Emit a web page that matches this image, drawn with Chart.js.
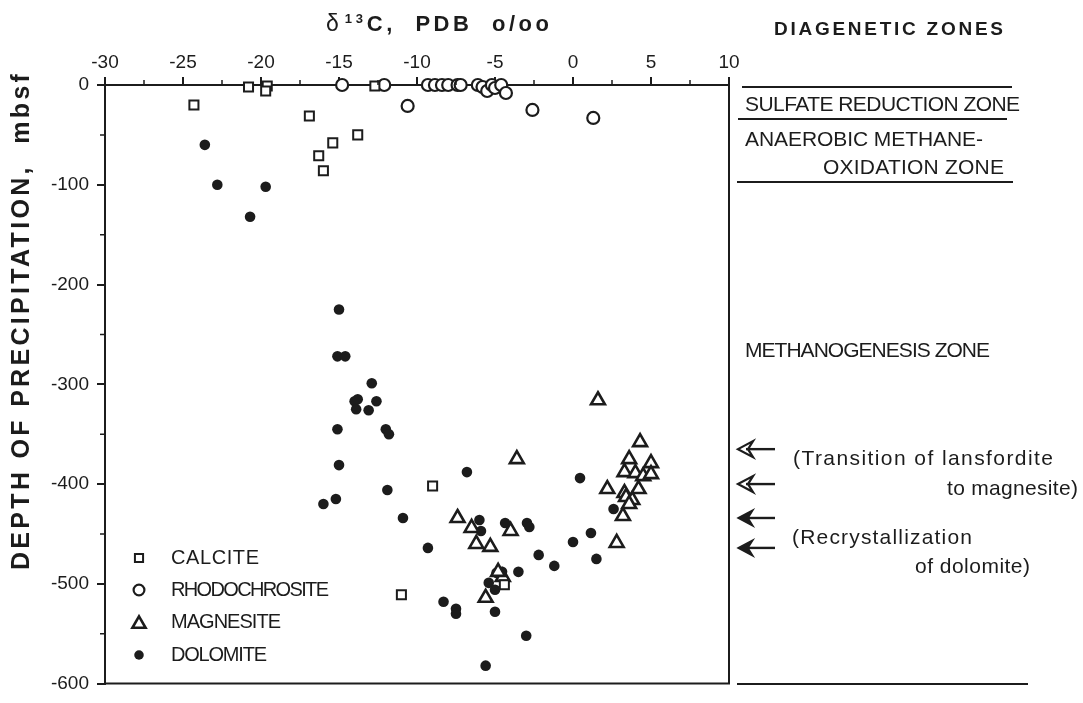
<!doctype html>
<html lang="en">
<head>
<meta charset="utf-8">
<title>Carbon isotopes of diagenetic carbonates</title>
<script src="https://cdn.jsdelivr.net/npm/chart.js@4.4.1/dist/chart.umd.min.js"></script>
<style>
  html, body { margin: 0; padding: 0; background: #fff; }
</style>
</head>
<body>
<canvas id="isoChart" width="1083" height="703"></canvas>
<script>
// delta13C (permil PDB) and depth of precipitation (mbsf)
var calciteX = [-24.3, -20.8, -19.6, -19.7, -16.9, -13.8, -15.4, -16.3, -16.0, -12.7, -9.0, -11.0, -4.4];
var calciteY = [-20, -2, -1, -6, -31, -50, -58, -71, -86, -1, -402, -511, -501];

var rhodoX = [-14.8, -12.1, -10.6, -9.3, -8.85, -8.4, -8.0, -7.4, -7.2, -6.1, -5.8, -5.5, -5.2, -5.0, -4.6, -4.3, -2.6, 1.3];
var rhodoY = [0, 0, -21, 0, 0, 0, 0, 0, 0, 0, -2, -6, 0, -3, 0, -8, -25, -33];

var magnesiteX = [1.6, 4.3, -3.6, 3.6, 5.0, 3.3, 4.0, 4.5, 5.0, 2.2, 4.2, 3.3, 3.4, 3.8, 3.6, 3.2, 2.8,
                  -7.4, -6.5, -4.0, -6.2, -5.3, -4.5, -4.8, -5.6];
var magnesiteY = [-316, -358, -375, -375, -379, -388, -389, -392, -390, -405, -405, -409, -413, -416, -420, -432, -459,
                  -434, -444, -447, -460, -463, -493, -488, -514];

var dolomiteX = [-23.6, -22.8, -20.7, -19.7,
                 -15.0, -15.1, -14.6, -12.9, -14.0, -13.8, -13.9, -12.6, -13.1, -15.1, -12.0, -11.8,
                 -15.0, -11.9, -15.2, -16.0, -10.9, -9.3,
                 -6.8, 0.45, -6.0, -5.9, -4.35, -2.95, -2.8, 2.6, 1.15, 0.0, -2.2, 1.5, -1.2, -3.5, -4.9, -4.55, -5.4, -5.0,
                 -8.3, -7.5, -7.5, -5.0, -3.0, -5.6];
var dolomiteY = [-60, -100, -132, -102,
                 -225, -272, -272, -299, -317, -315, -325, -317, -326, -345, -345, -350,
                 -381, -406, -415, -420, -434, -464,
                 -388, -394, -436, -447, -439, -439, -443, -425, -449, -458, -471, -475, -482, -488, -489, -488, -499, -506,
                 -518, -525, -530, -528, -552, -582];

var xMin = -30, xMax = 10, xStep = 5;
var yMin = -600, yMax = 0, yStep = 100;

// right-hand panel: zone boundaries and arrows, as depths
var zoneLineDepths = [-2, -34, -97, -600];
var arrowDepths = [-365, -400, -434, -464];

var ink = "#1c1c1c";
var sans = "'Liberation Sans', Arial, Helvetica, sans-serif";

function pairs(xs, ys) {
  return xs.map(function (x, i) { return { x: x, y: ys[i] }; });
}

var series = [
  { label: "CALCITE", data: pairs(calciteX, calciteY), pointStyle: "rect", pointRadius: 6.4,
    borderWidth: 2, borderColor: ink, backgroundColor: "#fff" },
  { label: "RHODOCHROSITE", data: pairs(rhodoX, rhodoY), pointStyle: "circle", pointRadius: 6,
    borderWidth: 2.2, borderColor: ink, backgroundColor: "#fff" },
  { label: "MAGNESITE", data: pairs(magnesiteX, magnesiteY), pointStyle: "triangle", pointRadius: 8,
    borderWidth: 2.6, borderColor: ink, backgroundColor: "#fff" },
  { label: "DOLOMITE", data: pairs(dolomiteX, dolomiteY), pointStyle: "circle", pointRadius: 5.3,
    borderWidth: 0, borderColor: ink, backgroundColor: ink }
];

// draws text stretched or squeezed to a given width
function fitText(ctx, txt, x, y, w) {
  ctx.letterSpacing = "0px";
  var m = ctx.measureText(txt).width;
  var ls = (w - m) / Math.max(1, txt.length - 1);
  ctx.letterSpacing = ls.toFixed(2) + "px";
  ctx.textAlign = "left";
  ctx.fillText(txt, x, y);
  ctx.letterSpacing = "0px";
}

function arrow(ctx, x0, x1, y, open) {
  ctx.save();
  ctx.strokeStyle = ink;
  ctx.fillStyle = ink;
  ctx.lineWidth = 2.4;
  ctx.beginPath();
  ctx.moveTo(x1, y);
  ctx.lineTo(x0 + 8, y);
  ctx.stroke();
  ctx.beginPath();
  ctx.moveTo(x0, y);
  ctx.lineTo(x0 + 15, y - 8);
  ctx.lineTo(x0 + 10, y);
  ctx.lineTo(x0 + 15, y + 8);
  ctx.closePath();
  ctx.lineJoin = "miter";
  if (open) {
    ctx.lineWidth = 2.2;
    ctx.stroke();
  } else {
    ctx.fill();
    ctx.lineWidth = 1.5;
    ctx.stroke();
  }
  ctx.restore();
}

var decorations = {
  id: "decorations",
  afterDraw: function (chart) {
    var ctx = chart.ctx;
    var a = chart.chartArea;
    var xs = chart.scales.x, ys = chart.scales.y;
    ctx.save();
    ctx.strokeStyle = ink;
    ctx.fillStyle = ink;
    ctx.lineWidth = 2;

    // right and bottom frame
    ctx.beginPath();
    ctx.moveTo(a.right, a.top - 8);
    ctx.lineTo(a.right, a.bottom);
    ctx.lineTo(a.left, a.bottom);
    ctx.stroke();

    // minor ticks
    ctx.lineWidth = 1.5;
    ctx.beginPath();
    for (var v = xMin + xStep / 2; v < xMax; v += xStep) {
      var px = xs.getPixelForValue(v);
      ctx.moveTo(px, a.top);
      ctx.lineTo(px, a.top - 5);
    }
    for (var w = yMin + yStep / 2; w < yMax; w += yStep) {
      var py = ys.getPixelForValue(w);
      ctx.moveTo(a.left, py);
      ctx.lineTo(a.left - 5, py);
    }
    ctx.stroke();

    // x axis title with superscript
    ctx.textBaseline = "middle";
    ctx.textAlign = "left";
    var tx = 326, ty = 25;
    ctx.font = "23px " + sans;
    ctx.fillText("\u03b4", tx, ty);
    tx += ctx.measureText("\u03b4").width + 6;
    ctx.font = "bold 13px " + sans;
    ctx.fillText("1 3", tx, ty - 6);
    tx += ctx.measureText("1 3").width + 4;
    ctx.font = "bold 22px " + sans;
    fitText(ctx, "C,  PDB  o/oo", tx, ty, 549 - tx);

    // y axis title
    ctx.save();
    ctx.translate(22, 322);
    ctx.rotate(-Math.PI / 2);
    ctx.font = "bold 25px " + sans;
    fitText(ctx, "DEPTH OF PRECIPITATION,  mbsf", -248, 0, 496);
    ctx.restore();

    // legend in the lower-left corner
    var legendY = [558, 590, 622, 655];
    chart.data.datasets.forEach(function (ds, i) {
      var r = ds.pointRadius * (i === 2 ? 0.95 : 0.9);
      ctx.save();
      ctx.strokeStyle = ds.borderColor;
      ctx.fillStyle = ds.backgroundColor;
      ctx.lineWidth = ds.borderWidth;
      Chart.helpers.drawPoint(ctx, { pointStyle: ds.pointStyle, radius: r, borderWidth: ds.borderWidth }, 139, legendY[i] + (i === 2 ? 2 : 0));
      ctx.restore();
      ctx.font = "20px " + sans;
      ctx.fillStyle = ink;
      var lw = [88, 158, 110, 96][i];
      fitText(ctx, ds.label, 171, legendY[i], lw);
    });

    // diagenetic zones panel
    ctx.font = "bold 19px " + sans;
    fitText(ctx, "DIAGENETIC ZONES", 774, 30, 229);

    var lineSpans = [[742, 1012], [738, 1007], [737, 1013], [737, 1028]];
    ctx.lineWidth = 2;
    ctx.beginPath();
    zoneLineDepths.forEach(function (d, i) {
      var py = Math.round(ys.getPixelForValue(d));
      ctx.moveTo(lineSpans[i][0], py);
      ctx.lineTo(lineSpans[i][1], py);
    });
    ctx.stroke();

    ctx.font = "21px " + sans;
    fitText(ctx, "SULFATE REDUCTION ZONE", 745, 105, 275);
    fitText(ctx, "ANAEROBIC METHANE-", 745, 140, 238);
    fitText(ctx, "OXIDATION ZONE", 823, 168, 181);
    fitText(ctx, "METHANOGENESIS ZONE", 745, 351, 245);

    arrowDepths.forEach(function (d, i) {
      arrow(ctx, 738, 775, ys.getPixelForValue(d), i < 2);
    });
    ctx.font = "21px " + sans;
    fitText(ctx, "(Transition of lansfordite", 793, 459, 260);
    fitText(ctx, "to magnesite)", 947, 489, 131);
    fitText(ctx, "(Recrystallization", 792, 538, 180);
    fitText(ctx, "of dolomite)", 915, 567, 115);

    ctx.restore();
  }
};

var ctxI = document.getElementById("isoChart").getContext("2d");
var isoChart = new Chart(ctxI, {
  type: "scatter",
  data: { datasets: series },
  options: {
    responsive: false,
    animation: false,
    devicePixelRatio: 1,
    clip: false,
    layout: { padding: { left: 0, top: 0, right: 354, bottom: 13 } },
    plugins: { legend: { display: false }, tooltip: { enabled: false } },
    scales: {
      x: {
        type: "linear",
        position: "top",
        min: xMin, max: xMax,
        ticks: { stepSize: xStep, color: ink, padding: 3, maxRotation: 0,
                 font: { family: sans, size: 19 } },
        grid: { drawOnChartArea: false, drawTicks: true, tickLength: 8, color: ink, lineWidth: 2 },
        border: { display: true, color: ink, width: 2 },
        afterFit: function (s) { s.height = 85; }
      },
      y: {
        type: "linear",
        position: "left",
        min: yMin, max: yMax,
        ticks: { stepSize: yStep, color: ink, padding: 8,
                 font: { family: sans, size: 19 } },
        grid: { drawOnChartArea: false, drawTicks: true, tickLength: 8, color: ink, lineWidth: 2 },
        border: { display: true, color: ink, width: 2 },
        afterFit: function (s) { s.width = 105; }
      }
    }
  },
  plugins: [decorations]
});
</script>
</body>
</html>
